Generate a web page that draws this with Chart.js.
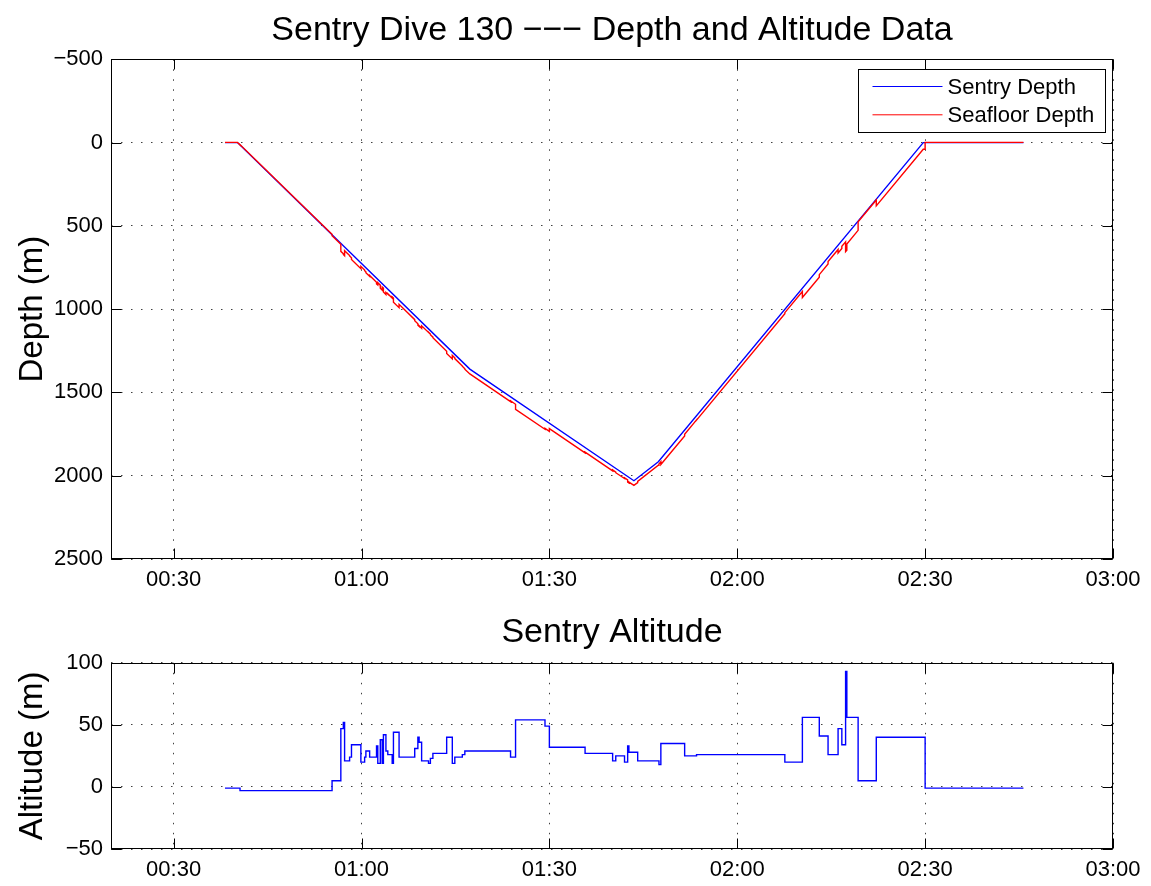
<!DOCTYPE html>
<html>
<head>
<meta charset="utf-8">
<script src="https://cdn.jsdelivr.net/npm/chart.js@4.4.0/dist/chart.umd.min.js"></script>
<style>
  html, body { margin: 0; padding: 0; background: #fff; }
  #wrap { position: relative; width: 1151px; height: 886px; }
  .pane { position: absolute; left: 0; width: 1151px; }
  #depthPane { top: 0; height: 600px; }
  #altPane { top: 600px; height: 286px; }
</style>
</head>
<body>
<div id="wrap">
  <div class="pane" id="depthPane"><canvas id="depthChart"></canvas></div>
  <div class="pane" id="altPane"><canvas id="altChart"></canvas></div>
</div>
<script>
// time axis in minutes after 00:00
const xTickValues = [30, 60, 90, 120, 150, 180];
const xTickLabels = ['00:30', '01:00', '01:30', '02:00', '02:30', '03:00'];

const depthTickValues = [-500, 0, 500, 1000, 1500, 2000, 2500];
const depthTickLabels = ['\u2212500', '0', '500', '1000', '1500', '2000', '2500'];

const altTickValues = [-50, 0, 50, 100];
const altTickLabels = ['\u221250', '0', '50', '100'];

// Sentry depth (m)
const sentryTime  = [38.2, 40.2, 77.3, 103.5, 107.4, 149.7, 165.7];
const sentryDepth = [0,    0,    1360, 2030,  1916,  0,     0];

// seafloor depth (m)
const seafloorTime = [
  38.2, 40.2, 40.6, 40.6, 55.3, 55.3, 56.7, 56.7, 57.1, 57.1,
  57.3, 57.3, 58.1, 58.1, 58.4, 58.4, 59.9, 59.9, 60.5, 60.5,
  60.7, 60.7, 61.3, 61.3, 62.4, 62.4, 62.6, 62.6, 63.0, 63.0,
  63.3, 63.3, 63.5, 63.5, 63.9, 63.9, 64.2, 64.2, 64.9, 64.9,
  65.1, 65.1, 66.0, 66.0, 68.5, 68.5, 69.0, 69.0, 69.2, 69.2,
  69.6, 69.6, 70.7, 70.7, 71.0, 71.0, 71.4, 71.4, 73.6, 73.6,
  74.5, 74.5, 74.9, 74.9, 76.1, 76.1, 76.5, 76.5, 77.3, 83.8,
  83.8, 84.6, 84.6, 89.3, 89.3, 90.0, 90.0, 95.7, 95.7, 100.1,
  100.1, 100.6, 100.6, 102.0, 102.0, 102.5, 102.5, 102.7, 102.7, 103.5,
  104.1, 104.1, 107.4, 107.5, 107.5, 107.8, 107.8, 111.6, 111.6, 113.5,
  113.5, 127.6, 127.6, 130.4, 130.4, 133.1, 133.1, 134.5, 134.5, 136.1,
  136.1, 136.7, 136.7, 137.3, 137.3, 137.5, 137.5, 139.3, 139.3, 142.2,
  142.2, 149.7, 150.0, 150.0, 165.7
];
const seafloorDepth = [
  -1, -1, 14, 12, 551, 559, 611, 653, 667, 672,
  680, 649, 678, 681, 692, 702, 757, 743, 765, 769,
  776, 781, 803, 798, 839, 848, 855, 841, 856, 875,
  886, 867, 874, 897, 912, 899, 910, 907, 933, 926,
  933, 958, 991, 971, 1063, 1070, 1088, 1097, 1104, 1100,
  1115, 1100, 1140, 1138, 1149, 1153, 1168, 1172, 1253, 1266,
  1299, 1278, 1292, 1297, 1341, 1343, 1358, 1361, 1389, 1555,
  1550, 1571, 1601, 1721, 1716, 1734, 1717, 1863, 1858, 1971,
  1965, 1978, 1982, 2017, 2012, 2025, 2038, 2043, 2038, 2058,
  2041, 2034, 1937, 1932, 1930, 1916, 1933, 1761, 1751, 1665,
  1666, 1027, 1021, 894, 930, 808, 793, 729, 714, 642,
  663, 636, 623, 596, 655, 646, 609, 527, 476, 345,
  380, 40, 40, -1, -1
];

// Sentry altitude (m), each value holds from its time until the next one
const altitudeTime = [
  38.2, 40.6, 55.3, 56.7, 57.1, 57.3, 58.1, 58.4, 59.9, 60.5,
  60.7, 61.3, 62.4, 62.6, 63.0, 63.3, 63.5, 63.9, 64.2, 64.9,
  65.1, 66.0, 68.5, 69.0, 69.2, 69.6, 70.7, 71.0, 71.4, 73.6,
  74.5, 74.9, 76.1, 76.5, 83.8, 84.6, 89.3, 90.0, 95.7, 100.1,
  100.6, 102.0, 102.5, 102.7, 104.1, 107.5, 107.8, 111.6, 113.5, 127.6,
  130.4, 133.1, 134.5, 136.1, 136.7, 137.3, 137.5, 139.3, 142.2, 150.0,
  165.7
];
const altitudeValue = [
  -1, -3, 5, 47, 52, 21, 24, 34, 20, 24,
  29, 24, 33, 19, 38, 19, 42, 29, 26, 19,
  44, 24, 31, 40, 36, 21, 19, 23, 27, 40,
  19, 24, 26, 29, 24, 54, 49, 32, 27, 21,
  25, 20, 33, 28, 21, 18, 35, 25, 26, 20,
  56, 41, 26, 47, 34, 93, 56, 5, 40, -1,
  -1
];

const FONT = "'Liberation Sans', Arial, Helvetica, sans-serif";
Chart.defaults.color = '#000';
Chart.defaults.font.family = FONT;

const toPoints = (xs, ys) => xs.map((x, i) => ({ x: x, y: ys[i] }));

// MATLAB style box: frame, inward ticks, optional legend
const matlabAxes = {
  id: 'matlabAxes',
  afterDraw(chart, args, opts) {
    const { ctx, chartArea: a, scales } = chart;
    const L = Math.round(a.left) + 0.5, R = Math.round(a.right) - 0.5;
    const T = Math.round(a.top) + 0.5, B = Math.round(a.bottom) - 0.5;
    const tl = 10;
    ctx.save();
    ctx.strokeStyle = '#000';
    ctx.lineWidth = 1;
    ctx.beginPath();
    scales.x.ticks.forEach(t => {
      const px = Math.round(scales.x.getPixelForValue(t.value)) + 0.5;
      ctx.moveTo(px, B); ctx.lineTo(px, B - tl);
      ctx.moveTo(px, T); ctx.lineTo(px, T + tl);
    });
    scales.y.ticks.forEach(t => {
      const py = Math.round(scales.y.getPixelForValue(t.value)) + 0.5;
      ctx.moveTo(L, py); ctx.lineTo(L + tl, py);
      ctx.moveTo(R, py); ctx.lineTo(R - tl, py);
    });
    ctx.stroke();
    ctx.strokeRect(L, T, R - L, B - T);

    if (opts.legend) {
      const w = 247, h = 63;
      const bx = Math.round(a.right - 8 - w) + 0.5, by = Math.round(a.top + 10) + 0.5;
      ctx.fillStyle = '#fff';
      ctx.fillRect(bx, by, w, h);
      ctx.strokeRect(bx, by, w, h);
      ctx.font = '22px ' + FONT;
      ctx.textBaseline = 'middle';
      ctx.textAlign = 'left';
      chart.data.datasets.forEach((ds, i) => {
        const ly = by + 17 + i * 28.3;
        ctx.strokeStyle = ds.borderColor;
        ctx.beginPath();
        ctx.moveTo(bx + 14, ly); ctx.lineTo(bx + 84, ly);
        ctx.stroke();
        ctx.fillStyle = '#000';
        ctx.fillText(ds.label, bx + 89, ly + 1);
      });
    }
    ctx.restore();
  }
};

function xScale() {
  return {
    type: 'linear',
    min: 20,
    max: 180,
    afterBuildTicks: s => { s.ticks = xTickValues.map(v => ({ value: v })); },
    afterFit: s => { s.height = s.chart.height - s.chart.options.plotBottom; },
    grid: { color: 'rgba(0,0,0,0.75)', drawTicks: false, lineWidth: 1 },
    border: { display: false, dash: [1.5, 8.5] },
    ticks: {
      autoSkip: false, maxRotation: 0, padding: 8,
      font: { size: 22 },
      callback: (v, i) => xTickLabels[i]
    }
  };
}

function yScale(min, max, values, labels, reverse, title) {
  return {
    type: 'linear',
    min: min,
    max: max,
    reverse: reverse,
    afterBuildTicks: s => { s.ticks = values.map(v => ({ value: v })); },
    afterFit: s => { s.width = 111; },
    grid: { color: 'rgba(0,0,0,0.75)', drawTicks: false, lineWidth: 1 },
    border: { display: false, dash: [1.5, 8.5] },
    ticks: {
      autoSkip: false, padding: 8,
      font: { size: 22 },
      callback: (v, i) => labels[i]
    },
    title: {
      display: true, text: title,
      font: { size: 33 },
      padding: { top: 13, bottom: 0 }
    }
  };
}

function baseOptions(titleText, titlePad, plotBottom, legend, xs, ys) {
  return {
    responsive: true,
    maintainAspectRatio: false,
    animation: false,
    plotBottom: plotBottom,
    layout: { padding: { left: 0, right: 38, top: 0, bottom: 0 } },
    plugins: {
      legend: { display: false },
      tooltip: { enabled: false },
      title: {
        display: true, text: titleText, fullSize: false,
        font: { size: 34, weight: 'normal' },
        padding: titlePad
      },
      matlabAxes: { legend: legend }
    },
    scales: { x: xs, y: ys }
  };
}

new Chart(document.getElementById('depthChart'), {
  type: 'line',
  data: {
    datasets: [
      {
        label: 'Sentry Depth',
        data: toPoints(sentryTime, sentryDepth),
        borderColor: '#0000ff', borderWidth: 1.4,
        pointRadius: 0, tension: 0, fill: false, order: 1
      },
      {
        label: 'Seafloor Depth',
        data: toPoints(seafloorTime, seafloorDepth),
        borderColor: '#ff0000', borderWidth: 1.4,
        pointRadius: 0, tension: 0, fill: false, order: 0
      }
    ]
  },
  options: baseOptions('Sentry Dive 130 \u2212\u2212\u2212 Depth and Altitude Data',
    { top: 10, bottom: 8.5 }, 559, true,
    xScale(),
    yScale(-500, 2500, depthTickValues, depthTickLabels, true, 'Depth (m)')),
  plugins: [matlabAxes]
});

new Chart(document.getElementById('altChart'), {
  type: 'line',
  data: {
    datasets: [
      {
        label: 'Sentry Altitude',
        data: toPoints(altitudeTime, altitudeValue),
        borderColor: '#0000ff', borderWidth: 1.4,
        pointRadius: 0, stepped: true, fill: false
      }
    ]
  },
  options: baseOptions('Sentry Altitude',
    { top: 12.5, bottom: 9.5 }, 249, false,
    xScale(),
    yScale(-50, 100, altTickValues, altTickLabels, false, 'Altitude (m)')),
  plugins: [matlabAxes]
});
</script>
</body>
</html>
